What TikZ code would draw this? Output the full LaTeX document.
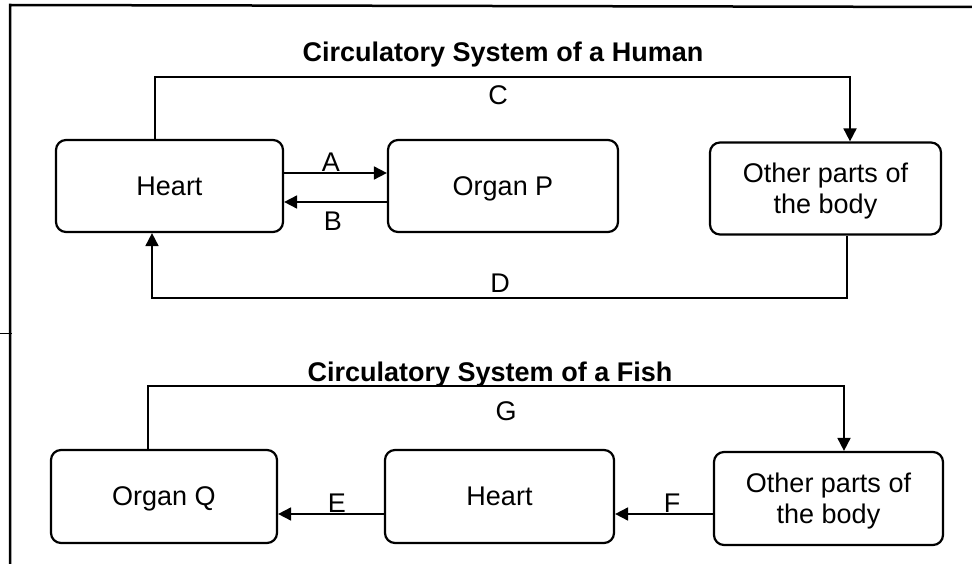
\documentclass[tikz,border=0pt]{standalone}
\usepackage{fontspec}
\setmainfont{Liberation Sans}
\usetikzlibrary{arrows.meta}
\begin{document}
\begin{tikzpicture}[x=1pt,y=-1pt,
  box/.style={draw, line width=2.2pt, rounded corners=10pt, minimum height=92pt, inner sep=0pt, align=center, text depth=0pt, font=\fontsize{27}{31}\selectfont},
  conn/.style={line width=1.8pt},
  arr/.style={conn, -{Triangle[length=13pt,width=13pt]}},
  lab/.style={font=\fontsize{27}{31}\selectfont, anchor=base, inner sep=0pt},
  ttl/.style={font=\fontsize{27}{31}\selectfont\bfseries, anchor=base, inner sep=0pt}]
\fill[white] (0,0) rectangle (972,564);
\useasboundingbox (0,0) rectangle (972,564);
% frame
\draw[line width=2.5pt] (10,564) -- (10,5) -- (972,7);
\draw[line width=1pt] (0,333) -- (12,333);
% titles
\node[ttl] (t1) at (503,62) {Circulatory System of a Human};
\node[ttl] (t2) at (490,381) {Circulatory System of a Fish};
% human boxes
\node[box, minimum width=227pt] (h1) at (169.5,186) {Heart};
\node[box, minimum width=230pt] (p) at (503,186) {Organ P};
\node[box, minimum width=231pt] (o1) at (825.5,188.5) {Other parts of\\the body};
% fish boxes
\node[box, minimum width=226pt, minimum height=93pt] (q) at (164,496.5) {Organ Q};
\node[box, minimum width=229pt, minimum height=93pt] (h2) at (499.5,496.5) {Heart};
\node[box, minimum width=229pt, minimum height=93pt] (o2) at (828.5,498.5) {Other parts of\\the body};
% coordinates
\coordinate (a) at (0,173);
\coordinate (b) at (0,202);
\coordinate (c1) at (155,77);
\coordinate (c2) at (850,77);
\coordinate (d1) at (847,298);
\coordinate (d2) at (152,298);
\coordinate (g1) at (148,386);
\coordinate (g2) at (844,386);
\coordinate (e) at (0,514);
% connectors
\draw[arr] (h1.east |- a) -- (p.west |- a);
\draw[arr] (p.west |- b) -- (h1.east |- b);
\draw[arr] (h1.north -| c1) -- (c1) -- (c2) -- (o1.north -| c2);
\draw[arr] (o1.south -| d1) -- (d1) -- (d2) -- (h1.south -| d2);
\draw[arr] (q.north -| g1) -- (g1) -- (g2) -- (o2.north -| g2);
\draw[arr] (h2.west |- e) -- (q.east |- e);
\draw[arr] (o2.west |- e) -- (h2.east |- e);
% labels
\node[lab] (la) at (331,172) {A};
\node[lab] (lb) at (333,231) {B};
\node[lab] (lc) at (498,105) {C};
\node[lab] (ld) at (500,292) {D};
\node[lab] (lg) at (506,420) {G};
\node[lab] (le) at (337,512) {E};
\node[lab] (lf) at (672,512) {F};
\end{tikzpicture}
\end{document}
